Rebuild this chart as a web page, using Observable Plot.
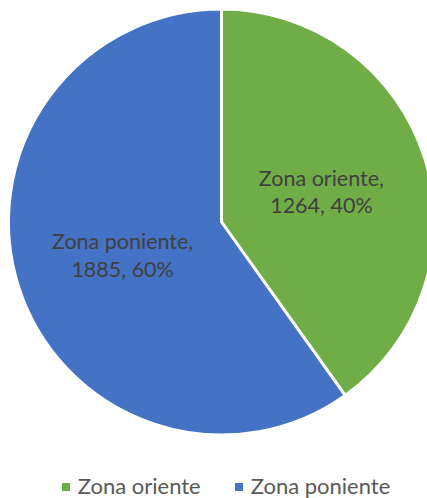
<!DOCTYPE html>
<html>
<head>
<meta charset="utf-8">
<script src="https://cdn.jsdelivr.net/npm/d3@7"></script>
<script src="https://cdn.jsdelivr.net/npm/@observablehq/plot@0.6"></script>
<style>
  html, body { margin: 0; padding: 0; background: #fff; overflow: hidden; }
  #chart { width: 427px; height: 498px; position: relative; }
  .legend { position: absolute; left: 0; top: 472px; width: 427px; box-sizing: border-box; padding-left: 21px;
            display: flex; justify-content: center; gap: 30px;
            font-family: Lato, "Open Sans", sans-serif; font-size: 22px; line-height: 28px; color: #595959; }
  .legend span.sw { display: inline-block; width: 8px; height: 8px; margin-right: 8px; vertical-align: 3px; }
  .legend .item { margin-left: 4px; }
</style>
</head>
<body>
<div id="chart"></div>
<script>
const categories = ["Zona oriente", "Zona poniente"];
const values = [1264, 1885];
const percents = ["40%", "60%"];
const colors = ["#70AD47", "#4472C4"];

const pie = d3.pie().sort(null).value(d => d.value);
const data = categories.map((c, i) => ({category: c, value: values[i], pct: percents[i]}));
const arcs = pie(data);
const labels = arcs.map(a => {
  const mid = (a.startAngle + a.endAngle) / 2;
  return {
    x: 0.49 * Math.sin(mid),
    y: 0.49 * Math.cos(mid),
    text: `${a.data.category},\n${a.data.value}, ${a.data.pct}`
  };
});

const cx = 221.5, cy = 222, R = 213;

function pieMark(index, scales, values, dimensions, context) {
  const x0 = scales.x(0), y0 = scales.y(0);
  const r = Math.abs(scales.x(1) - scales.x(0));
  const g = d3.create("svg:g").attr("transform", `translate(${x0},${y0})`);
  const arcGen = d3.arc().innerRadius(0).outerRadius(r);
  g.selectAll("path").data(arcs).join("path")
    .attr("d", arcGen)
    .attr("fill", d => scales.color(d.data.category))
    .attr("stroke", "#fff")
    .attr("stroke-width", 3)
    .attr("stroke-linejoin", "round");
  return g.node();
}

const plot = Plot.plot({
  width: 427,
  height: 470,
  margin: 0,
  style: {background: "#fff", overflow: "hidden"},
  x: {domain: [-1, 1], range: [cx - R, cx + R], axis: null},
  y: {domain: [-1, 1], range: [cy + R, cy - R], axis: null},
  color: {domain: categories, range: colors},
  marks: [
    pieMark,
    Plot.text(labels, {
      x: "x", y: "y", text: "text",
      fontSize: 21.5, lineHeight: 1.26,
      fill: "#404040",
      fontFamily: "Lato, 'Open Sans', sans-serif"
    })
  ]
});

const chart = document.getElementById("chart");
chart.appendChild(plot);

const legend = document.createElement("div");
legend.className = "legend";
categories.forEach((c, i) => {
  const item = document.createElement("div");
  item.className = "item";
  item.innerHTML = `<span class="sw" style="background:${colors[i]}"></span>${c}`;
  legend.appendChild(item);
});
chart.appendChild(legend);
</script>
</body>
</html>
